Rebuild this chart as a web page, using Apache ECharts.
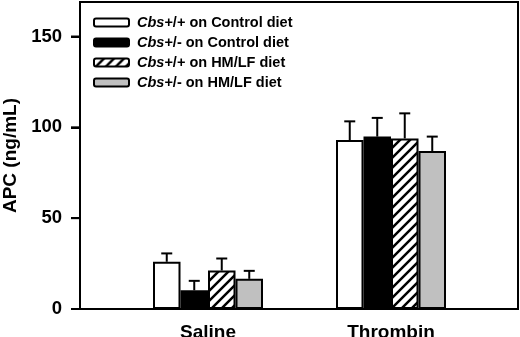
<!DOCTYPE html>
<html>
<head>
<meta charset="utf-8">
<script src="https://cdn.jsdelivr.net/npm/echarts@6/dist/echarts.min.js"></script>
<style>
html, body { margin: 0; padding: 0; background: #fff; }
#main { width: 520px; height: 337px; }
</style>
</head>
<body>
<div id="main"></div>
<script>
// data
const categories = ['Saline', 'Thrombin'];
const seriesNames = ['Cbs+/+ on Control diet', 'Cbs+/- on Control diet', 'Cbs+/+ on HM/LF diet', 'Cbs+/- on HM/LF diet'];
const wtControl = [26.0, 93.0];
const hetControl = [10.3, 94.9];
const wtHmlf = [21.2, 93.9];
const hetHmlf = [16.6, 87.0];
const wtControlErr = [4.6, 10.3];
const hetControlErr = [5.2, 10.3];
const wtHmlfErr = [6.6, 13.8];
const hetHmlfErr = [4.4, 7.9];
const yTicks = [0, 50, 100, 150];

const values = [wtControl, hetControl, wtHmlf, hetHmlf];
const errors = [wtControlErr, hetControlErr, wtHmlfErr, hetHmlfErr];

// hatch pattern "/"
const hatch = document.createElement('canvas');
hatch.width = 10;
hatch.height = 10;
const ctx = hatch.getContext('2d');
ctx.fillStyle = '#fff';
ctx.fillRect(0, 0, 10, 10);
ctx.strokeStyle = '#000';
ctx.lineWidth = 2.5;
ctx.beginPath();
ctx.moveTo(-5, 5); ctx.lineTo(5, -5);
ctx.moveTo(0, 10); ctx.lineTo(10, 0);
ctx.moveTo(5, 15); ctx.lineTo(15, 5);
ctx.stroke();

const fills = ['#fff', '#000', { image: hatch, repeat: 'repeat' }, '#c0c0c0'];
const barW = 27.5;
const tickLen = 9;
const font = 'Liberation Sans, Arial, sans-serif';

const errData = [];
values.forEach((arr, s) => {
    arr.forEach((v, c) => {
        errData.push([c, s, v, errors[s][c]]);
    });
});

const bounds = { left: -40, right: -40, top: -40, bottom: -40 };

const myChart = echarts.init(document.getElementById('main'));
const option = {
    animation: false,
    grid: [
        { left: 80, right: 2, top: 2, bottom: 28, outerBounds: bounds, show: true, borderColor: '#000', borderWidth: 2 },
        { left: 116.5, width: 366, top: 2, bottom: 28, outerBounds: bounds }
    ],
    legend: {
        data: seriesNames,
        orient: 'vertical',
        left: 88,
        top: 10,
        itemWidth: 35,
        itemHeight: 8,
        itemGap: 5,
        textStyle: {
            fontFamily: font,
            fontSize: 14.5,
            fontWeight: 'bold',
            color: '#000',
            lineHeight: 14,
            padding: [0, 0, 0, 3],
            rich: {
                i: { fontFamily: font, fontSize: 14.5, fontWeight: 'bold', fontStyle: 'italic', color: '#000' },
                b: { fontFamily: font, fontSize: 14.5, fontWeight: 'bold', color: '#000' }
            }
        },
        formatter: (name) => '{i|Cbs}{b|' + name.slice(3) + '}'
    },
    xAxis: [
        { type: 'category', gridIndex: 0, data: [''], show: false },
        {
            type: 'category',
            gridIndex: 1,
            data: categories,
            axisLine: { show: false },
            axisTick: { show: false },
            axisLabel: { fontFamily: font, fontSize: 19, fontWeight: 'bold', color: '#000', margin: 14 }
        }
    ],
    yAxis: [
        {
            type: 'value',
            gridIndex: 0,
            zlevel: 1,
            min: 0,
            max: 169,
            name: 'APC (ng/mL)',
            nameLocation: 'middle',
            nameGap: 58,
            nameTextStyle: { fontFamily: font, fontSize: 19, fontWeight: 'bold', color: '#000' },
            splitLine: { show: false },
            axisLine: { show: true, lineStyle: { color: '#000', width: 2 } },
            axisTick: { show: true, inside: false, length: tickLen, lineStyle: { color: '#000', width: 2 }, customValues: yTicks },
            axisLabel: { fontFamily: font, fontSize: 18.5, fontWeight: 'bold', color: '#000', margin: 18, customValues: yTicks }
        },
        { type: 'value', gridIndex: 1, min: 0, max: 169, show: false }
    ],
    series: seriesNames.map((name, i) => ({
        name: name,
        type: 'bar',
        xAxisIndex: 1,
        yAxisIndex: 1,
        barWidth: barW,
        barGap: '0%',
        itemStyle: { color: fills[i], borderColor: '#000', borderWidth: 2 },
        data: values[i]
    })).concat([{
        // error bars (upper only)
        type: 'custom',
        xAxisIndex: 1,
        yAxisIndex: 1,
        z: 5,
        encode: { x: 0, y: 2 },
        data: errData,
        renderItem: (params, api) => {
            const c = api.value(0), s = api.value(1), v = api.value(2), e = api.value(3);
            const base = api.coord([c, v]);
            const top = api.coord([c, v + e]);
            const x = base[0] + (s - 1.5) * barW;
            const style = { stroke: '#000', lineWidth: 2 };
            return {
                type: 'group',
                children: [
                    { type: 'line', shape: { x1: x, y1: base[1], x2: x, y2: top[1] }, style: style },
                    { type: 'line', shape: { x1: x - 5.5, y1: top[1], x2: x + 5.5, y2: top[1] }, style: style }
                ]
            };
        }
    }, {
        // outside ticks on the y axis, on a layer above everything
        type: 'custom',
        xAxisIndex: 0,
        yAxisIndex: 0,
        zlevel: 2,
        z: 10,
        clip: false,
        silent: true,
        encode: { x: 0, y: 1 },
        data: yTicks.map((t) => [0, t]),
        renderItem: (params, api) => {
            const p = api.coord([0, api.value(1)]);
            const x = params.coordSys.x;
            return {
                type: 'line',
                shape: { x1: x - tickLen, y1: p[1], x2: x + 1, y2: p[1] },
                style: { stroke: '#000', lineWidth: 2 }
            };
        }
    }])
};
myChart.setOption(option);
</script>
</body>
</html>
